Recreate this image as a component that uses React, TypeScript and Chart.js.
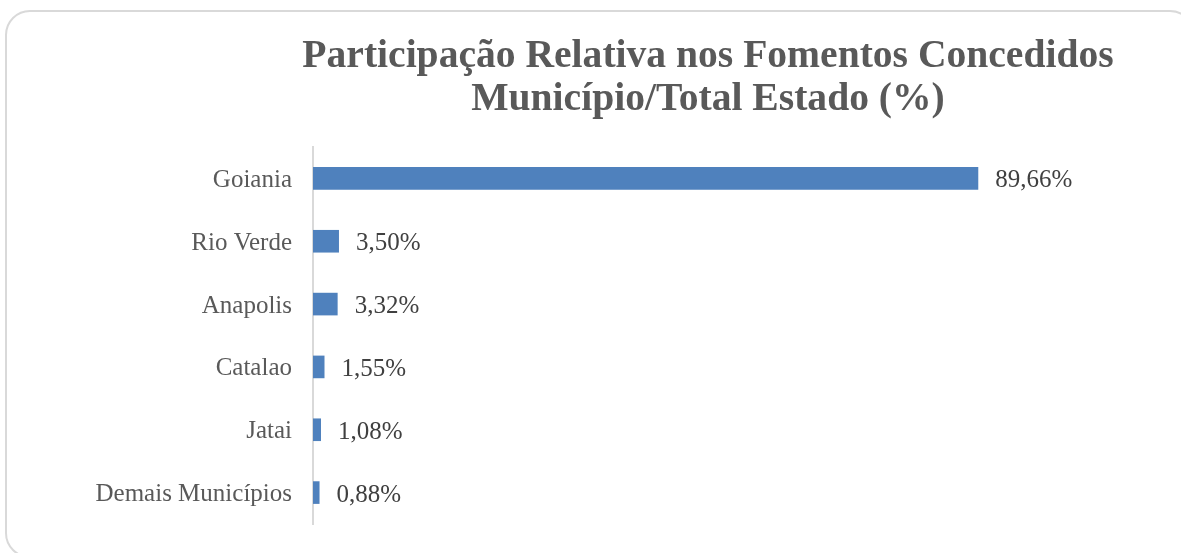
import React, { useEffect, useRef } from "react";
import { Chart, registerables } from "chart.js";

Chart.register(...registerables);

const categories = ["Goiania", "Rio Verde", "Anapolis", "Catalao", "Jatai", "Demais Municípios"];
const values = [89.66, 3.5, 3.32, 1.55, 1.08, 0.88];
const titleLines = ["Participação Relativa nos Fomentos Concedidos", "Município/Total Estado (%)"];

const fmt = (v: number) => v.toFixed(2).replace(".", ",") + "%";

const titlePlugin = {
  id: "customTitle",
  afterDraw(chart: any) {
    const ctx = chart.ctx;
    ctx.save();
    ctx.font = "bold 39.6px 'Liberation Serif'";
    ctx.fillStyle = "#595959";
    ctx.textAlign = "center";
    ctx.textBaseline = "alphabetic";
    ctx.fillText(titleLines[0], 708, 67);
    ctx.fillText(titleLines[1], 708, 109.5);
    ctx.restore();
  },
};

const valueLabelPlugin = {
  id: "valueLabels",
  afterDatasetsDraw(chart: any) {
    const ctx = chart.ctx;
    const meta = chart.getDatasetMeta(0);
    ctx.save();
    ctx.font = "25px 'Liberation Serif'";
    ctx.fillStyle = "#404040";
    ctx.textAlign = "left";
    ctx.textBaseline = "middle";
    meta.data.forEach((bar: any, i: number) => {
      ctx.fillText(fmt(values[i]), bar.x + 17, bar.y + 2.5);
    });
    ctx.restore();
  },
};

export default function App() {
  const ref = useRef<HTMLCanvasElement>(null);
  useEffect(() => {
    if (!ref.current) return;
    const chart = new Chart(ref.current, {
      type: "bar",
      data: {
        labels: categories,
        datasets: [
          {
            data: values,
            backgroundColor: "#4f81bd",
            borderWidth: 0,
            barPercentage: 0.9,
            categoryPercentage: 0.4,
          },
        ],
      },
      options: {
        indexAxis: "y",
        animation: false,
        responsive: false,
        layout: { padding: { left: 0, right: 126, top: 147, bottom: 29 } },
        plugins: { legend: { display: false }, tooltip: { enabled: false }, title: { display: false } },
        scales: {
          x: { display: false, min: 0, max: 100 },
          y: {
            grid: { display: false, drawTicks: false },
            border: { display: true, color: "#d9d9d9", width: 2 },
            ticks: {
              padding: 21,
              labelOffset: 2,
              color: "#595959",
              font: { family: "'Liberation Serif'", size: 25 },
            },
            afterFit(scale: any) {
              scale.width = 313;
              scale.paddingTop = 0;
              scale.paddingBottom = 0;
            },
          },
        },
      },
      plugins: [titlePlugin, valueLabelPlugin],
    });
    return () => chart.destroy();
  }, []);

  return (
    <div style={{ position: "absolute", left: 0, top: 0, width: 1181, height: 553, overflow: "hidden", background: "#fff" }}>
      <div
        style={{
          position: "absolute",
          left: 5,
          top: 10,
          width: 1190,
          height: 548,
          boxSizing: "border-box",
          border: "2px solid #d9d9d9",
          borderRadius: 25,
        }}
      />
      <canvas ref={ref} width={1181} height={553} style={{ position: "absolute", left: 0, top: 0 }} />
    </div>
  );
}
